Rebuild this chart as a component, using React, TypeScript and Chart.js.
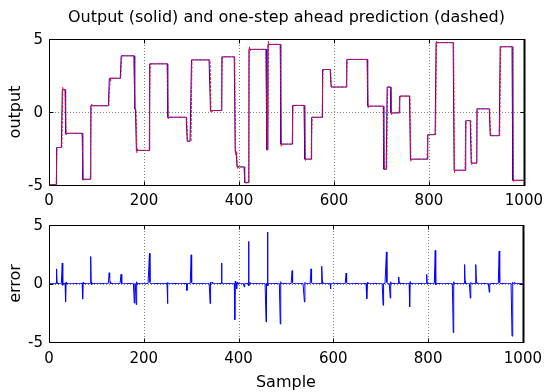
import React, { useEffect, useRef } from "react";
import { Chart, registerables } from "chart.js";

Chart.register(...registerables);

const FONT = "'DejaVu Sans', 'Liberation Sans', sans-serif";

const titleText = "Output (solid) and one-step ahead prediction (dashed)";
const xLabel = "Sample";
const topYLabel = "output";
const bottomYLabel = "error";

const xTicks = [0, 200, 400, 600, 800, 1000];
const yTicks = [-5, 0, 5];
const lastSample = 1000;

// Output signal: sample where each new level starts, and that level
const stepStart = [
  0, 16, 28, 35, 71, 88, 127, 152, 180, 184,
  212, 250, 291, 300, 340, 364, 392, 396, 412, 421,
  458, 461, 488, 513, 539, 553, 576, 594, 627, 671,
  705, 712, 720, 738, 761, 797, 815, 853, 877, 889,
  901, 929, 950, 977,
];
const stepLevel = [
  -4.97, -2.43, 1.53, -1.46, -4.61, 0.43, 2.31, 3.85, 0.22, -2.63,
  3.3, -0.36, -2.0, 3.57, 0.1, 3.78, -2.72, -3.76, -4.84, 4.29,
  -2.59, 4.63, -2.2, 0.45, -3.23, -0.36, 2.91, 1.71, 3.6, 0.4,
  -3.92, 1.71, -0.06, 1.09, -3.23, -1.55, 4.75, -3.99, -0.59, -3.5,
  0.22, -1.62, 4.47, -4.68,
];

// Prediction error (non-zero samples only; all other samples are 0)
const errSample = [
  16, 17, 28, 29, 35, 36, 71, 72, 88, 89, 90,
  127, 128, 130, 152, 153, 180, 184, 185, 186,
  212, 213, 250, 251, 291, 300, 301,
  340, 341, 344, 364, 365, 392, 393, 396, 397,
  412, 421, 422, 424, 458, 461, 462, 488, 489,
  513, 514, 539, 540, 553, 554, 576, 577, 594, 627, 628,
  671, 672, 705, 712, 713, 720, 721, 738, 740, 761, 762,
  797, 815, 816, 853, 854, 877, 878, 889, 890, 901, 902,
  929, 950, 951, 977, 978, 982,
];
const errValue = [
  1.25, 0.1, 1.75, -0.15, -1.58, 0.12, -1.33, 0.1, 2.31, 0.15, -0.1,
  0.92, 0.5, 0.15, 0.78, 0.2, -1.67, -1.8, 0.15, -0.1,
  2.58, 0.12, -1.72, 0.1, -0.6, 2.45, 0.1,
  -1.72, 0.12, 0.1, 1.75, 0.15, -3.1, 0.2, -0.45, 0.1,
  -0.3, 3.6, -0.2, 0.1, -3.28, 4.4, -0.2, -3.47, 0.15,
  1.1, 0.1, -1.58, 0.1, 1.25, 0.1, 1.47, 0.12, -0.47, 0.89, 0.1,
  -1.3, 0.1, -1.86, 2.7, 0.1, -1.25, 0.15, 0.56, 0.1, -2.0, 0.15,
  0.78, 2.83, -0.1, -4.2, 0.15, 1.62, 0.2, -1.25, 0.1, 1.62, 0.1,
  -0.75, 2.78, 0.1, -4.5, 0.1, 0.08,
];

function buildSeries() {
  const errMap = new Map<number, number>();
  errSample.forEach((s, i) => errMap.set(s, errValue[i]));
  const out: { x: number; y: number }[] = [];
  const pred: { x: number; y: number }[] = [];
  const err: { x: number; y: number }[] = [];
  let k = 0;
  for (let i = 0; i <= lastSample; i++) {
    while (k + 1 < stepStart.length && stepStart[k + 1] <= i) k++;
    const o = stepLevel[k];
    const e = errMap.get(i) ?? 0;
    out.push({ x: i, y: o });
    pred.push({ x: i, y: o - e });
    err.push({ x: i, y: e });
  }
  return { out, pred, err };
}

const framePlugin = {
  id: "matlabFrame",
  beforeDatasetsDraw(chart: any) {
    const { ctx, chartArea: a, scales } = chart;
    const xs = scales.x;
    const ys = scales.y;
    ctx.save();
    ctx.strokeStyle = "#808080";
    ctx.lineWidth = 1;
    ctx.setLineDash([1, 2]);
    ctx.beginPath();
    for (const v of xTicks) {
      if (v <= xs.min || v >= xs.max) continue;
      const px = Math.round(xs.getPixelForValue(v)) + 0.5;
      ctx.moveTo(px, a.top);
      ctx.lineTo(px, a.bottom);
    }
    for (const v of yTicks) {
      if (v <= ys.min || v >= ys.max) continue;
      const py = Math.round(ys.getPixelForValue(v)) + 0.5;
      ctx.moveTo(a.left, py);
      ctx.lineTo(a.right, py);
    }
    ctx.stroke();
    ctx.restore();
  },
  afterDatasetsDraw(chart: any) {
    const { ctx, chartArea: a, scales } = chart;
    const xs = scales.x;
    const ys = scales.y;
    const L = Math.round(a.left) + 0.5;
    const R = Math.round(a.right) + 0.5;
    const T = Math.round(a.top) + 0.5;
    const B = Math.round(a.bottom) + 0.5;
    ctx.save();
    ctx.setLineDash([]);
    ctx.strokeStyle = "#000";
    ctx.lineWidth = 1;
    ctx.beginPath();
    ctx.moveTo(L, T);
    ctx.lineTo(R, T);
    ctx.moveTo(L, T);
    ctx.lineTo(L, B);
    ctx.lineTo(R, B);
    const tl = 4;
    for (const v of xTicks) {
      const px = Math.round(xs.getPixelForValue(v)) + 0.5;
      ctx.moveTo(px, B);
      ctx.lineTo(px, B - tl);
      ctx.moveTo(px, T);
      ctx.lineTo(px, T + tl);
    }
    for (const v of yTicks) {
      const py = Math.round(ys.getPixelForValue(v)) + 0.5;
      ctx.moveTo(L, py);
      ctx.lineTo(L + tl, py);
      ctx.moveTo(R, py);
      ctx.lineTo(R - tl, py);
    }
    ctx.stroke();
    ctx.lineWidth = 2;
    ctx.beginPath();
    ctx.moveTo(R, T - 0.5);
    ctx.lineTo(R, B + 0.5);
    ctx.stroke();
    ctx.restore();
  },
};

function makeOptions(opts: {
  title?: string;
  yTitle: string;
  xTitle?: string;
  padTop: number;
  xHeight: number;
  xTickPad: number;
}) {
  return {
    responsive: false,
    animation: false as const,
    events: [] as any[],
    layout: { padding: { top: opts.padTop, right: 22, bottom: 0, left: 0 } },
    plugins: {
      legend: { display: false },
      tooltip: { enabled: false },
      title: opts.title
        ? {
            display: true,
            fullSize: false,
            text: opts.title,
            color: "#000",
            font: { family: FONT, size: 16, weight: "normal" as const },
            padding: { top: 8, bottom: 11.8 },
          }
        : { display: false },
    },
    scales: {
      x: {
        type: "linear" as const,
        min: 0,
        max: lastSample,
        grid: { display: false, drawTicks: false },
        border: { display: false },
        afterBuildTicks: (s: any) => {
          s.ticks = xTicks.map((v) => ({ value: v }));
        },
        afterFit: (s: any) => {
          s.height = opts.xHeight;
        },
        ticks: {
          color: "#000",
          padding: opts.xTickPad,
          maxRotation: 0,
          autoSkip: false,
          font: { family: FONT, size: 15 },
          callback: (v: any) => String(v),
        },
        title: opts.xTitle
          ? {
              display: true,
              text: opts.xTitle,
              color: "#000",
              font: { family: FONT, size: 16 },
              padding: { top: 0, bottom: 0 },
            }
          : { display: false },
      },
      y: {
        type: "linear" as const,
        min: -5,
        max: 5,
        grid: { display: false, drawTicks: false },
        border: { display: false },
        afterBuildTicks: (s: any) => {
          s.ticks = yTicks.map((v) => ({ value: v }));
        },
        afterFit: (s: any) => {
          s.width = 49;
        },
        ticks: {
          color: "#000",
          padding: 6,
          labelOffset: 1,
          font: { family: FONT, size: 15 },
          callback: (v: any) => String(v),
        },
        title: {
          display: true,
          text: opts.yTitle,
          color: "#000",
          font: { family: FONT, size: 16 },
          padding: { top: 6, bottom: 0 },
        },
      },
    },
  };
}

export default function App() {
  const topRef = useRef<HTMLCanvasElement | null>(null);
  const botRef = useRef<HTMLCanvasElement | null>(null);

  useEffect(() => {
    const { out, pred, err } = buildSeries();
    const top = new Chart(topRef.current as HTMLCanvasElement, {
      type: "line",
      data: {
        datasets: [
          {
            label: "prediction",
            data: pred,
            borderColor: "#ff0000",
            borderWidth: 1,
            borderDash: [3, 1],
            pointRadius: 0,
            tension: 0,
            clip: false as any,
          },
          {
            label: "output",
            data: out,
            borderColor: "#0000ff",
            borderWidth: 1,
            pointRadius: 0,
            tension: 0,
            clip: false as any,
          },
        ],
      },
      options: makeOptions({
        title: titleText,
        yTitle: topYLabel,
        padTop: 0,
        xHeight: 25,
        xTickPad: 7,
      }) as any,
      plugins: [framePlugin],
    });
    const bottom = new Chart(botRef.current as HTMLCanvasElement, {
      type: "line",
      data: {
        datasets: [
          {
            label: "error",
            data: err,
            borderColor: "#0000ff",
            borderWidth: 1,
            pointRadius: 0,
            tension: 0,
            clip: false as any,
          },
        ],
      },
      options: makeOptions({
        yTitle: bottomYLabel,
        xTitle: xLabel,
        padTop: 12,
        xHeight: 50,
        xTickPad: 8,
      }) as any,
      plugins: [framePlugin],
    });
    return () => {
      top.destroy();
      bottom.destroy();
    };
  }, []);

  return (
    <div
      style={{
        position: "absolute",
        left: 0,
        top: 0,
        width: 550,
        height: 392,
        background: "#fff",
      }}
    >
      <canvas
        ref={topRef}
        width={550}
        height={210}
        style={{ position: "absolute", left: 0, top: 0, display: "block" }}
      />
      <canvas
        ref={botRef}
        width={550}
        height={182}
        style={{ position: "absolute", left: 0, top: 210, display: "block" }}
      />
    </div>
  );
}
